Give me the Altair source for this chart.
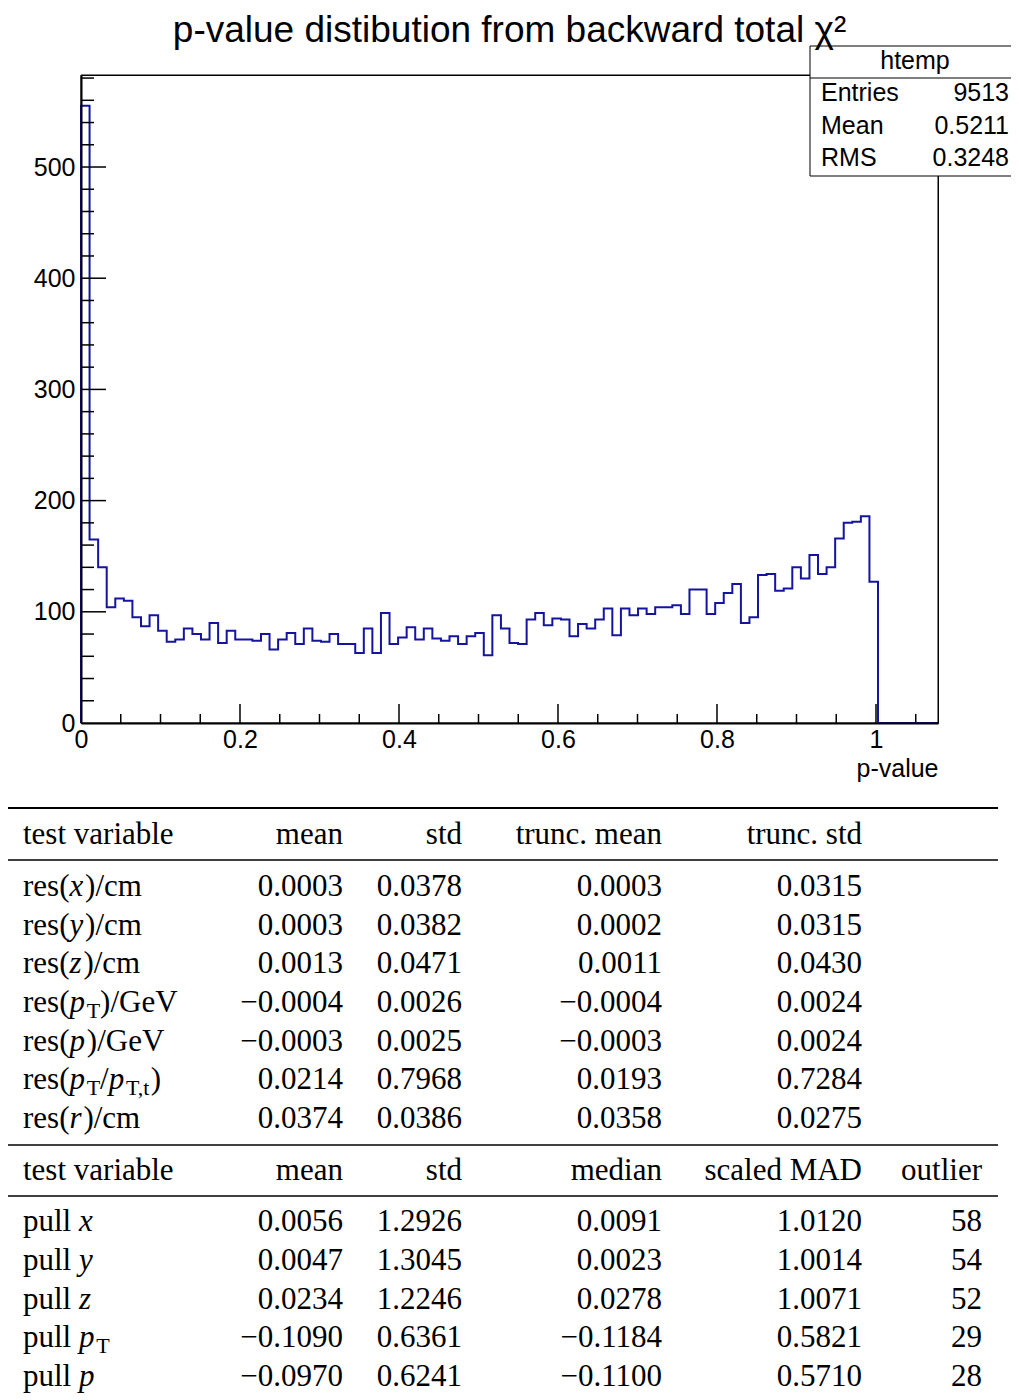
import altair as alt
import pandas as pd

# ---------------- histogram ----------------
TITLE = "p-value distibution from backward total \u03c7\u00b2"
X_LO, X_HI = 0.0, 1.078
Y_LO, Y_HI = 0.0, 582.75
counts = [555, 165, 140, 104, 112, 110, 95, 87, 97, 83,
          73, 75, 85, 80, 75, 90, 72, 83, 75, 75,
          74, 80, 66, 75, 81, 71, 85, 74, 73, 80,
          71, 71, 63, 85, 63, 99, 71, 77, 86, 75,
          85, 76, 74, 78, 71, 78, 81, 61, 97, 85,
          72, 71, 93, 99, 88, 94, 93, 78, 89, 85,
          93, 103, 79, 103, 97, 103, 98, 104, 104, 106,
          98, 120, 120, 98, 108, 117, 125, 90, 95, 133,
          134, 119, 121, 140, 130, 151, 134, 140, 166, 180,
          181, 186, 127, 0, 0, 0, 0, 0, 0, 0]
x_major = [0, 0.2, 0.4, 0.6, 0.8, 1.0]
x_minor = [0.05, 0.1, 0.15, 0.25, 0.3, 0.35, 0.45, 0.5, 0.55,
           0.65, 0.7, 0.75, 0.85, 0.9, 0.95, 1.05]
y_major = [0, 100, 200, 300, 400, 500]
y_minor = [20, 40, 60, 80, 120, 140, 160, 180, 220, 240, 260, 280,
           320, 340, 360, 380, 420, 440, 460, 480, 520, 540, 560, 580]
x_title = "p-value"

hist_name = "htemp"
stat_names = ["Entries", "Mean", "RMS"]
stat_values = ["9513", "0.5211", "0.3248"]

# ---------------- table ----------------
header_res = ["test variable", "mean", "std", "trunc. mean", "trunc. std"]
header_pull = ["test variable", "mean", "std", "median", "scaled MAD", "outlier"]

res_labels = [
    [("res(", "n"), ("x", "i"), (")/cm", "n")],
    [("res(", "n"), ("y", "i"), (")/cm", "n")],
    [("res(", "n"), ("z", "i"), (")/cm", "n")],
    [("res(", "n"), ("p", "i"), ("T", "s"), (")/GeV", "n")],
    [("res(", "n"), ("p", "i"), (")/GeV", "n")],
    [("res(", "n"), ("p", "i"), ("T", "s"), ("/", "n"), ("p", "i"), ("T,t", "s"), (")", "n")],
    [("res(", "n"), ("r", "i"), (")/cm", "n")],
]
res_mean = [0.0003, 0.0003, 0.0013, -0.0004, -0.0003, 0.0214, 0.0374]
res_std = [0.0378, 0.0382, 0.0471, 0.0026, 0.0025, 0.7968, 0.0386]
res_tmean = [0.0003, 0.0002, 0.0011, -0.0004, -0.0003, 0.0193, 0.0358]
res_tstd = [0.0315, 0.0315, 0.0430, 0.0024, 0.0024, 0.7284, 0.0275]

pull_labels = [
    [("pull ", "n"), ("x", "i")],
    [("pull ", "n"), ("y", "i")],
    [("pull ", "n"), ("z", "i")],
    [("pull ", "n"), ("p", "i"), ("T", "s")],
    [("pull ", "n"), ("p", "i")],
]
pull_mean = [0.0056, 0.0047, 0.0234, -0.1090, -0.0970]
pull_std = [1.2926, 1.3045, 1.2246, 0.6361, 0.6241]
pull_median = [0.0091, 0.0023, 0.0278, -0.1184, -0.1100]
pull_mad = [1.0120, 1.0014, 1.0071, 0.5821, 0.5710]
pull_outlier = [58, 54, 52, 29, 28]

# ---------------- styling / layout ----------------
W, H = 857, 648
BLUE = "#1414a0"
SANS = "Liberation Sans"
SERIF = "Liberation Serif"
TFS = 31  # table font size

xs = alt.Scale(domain=[X_LO, X_HI], zero=False, nice=False)
ys = alt.Scale(domain=[Y_LO, Y_HI], zero=False, nice=False)

nb = len(counts)
bw = (X_HI - X_LO) / nb
pts = [{"seq": 0, "x": X_LO, "n": 0}]
pts += [{"seq": i + 1, "x": X_LO + i * bw, "n": c} for i, c in enumerate(counts)]
pts += [{"seq": nb + 1, "x": X_HI, "n": 0}]
hist_df = pd.DataFrame(pts)

xaxis = alt.Axis(values=x_major, format="~g", title=x_title, titleAnchor="end",
                 titleAlign="right", titleX=W, titleY=53, titleBaseline="alphabetic",
                 titleFont=SANS, titleFontSize=25, titleFontWeight="normal", titleColor="black",
                 labelFont=SANS, labelFontSize=25, labelColor="black", labelPadding=4,
                 labelFlush=False, labelOverlap=False,
                 ticks=False, tickSize=0, grid=False, domainColor="black", domainWidth=2, zindex=1)
yaxis = alt.Axis(values=y_major, title=None,
                 labelFont=SANS, labelFontSize=25, labelColor="black", labelPadding=6,
                 labelFlush=False, labelOverlap=False,
                 ticks=False, tickSize=0, grid=False, domainColor="black", domainWidth=2, zindex=1)

line = alt.Chart(hist_df).mark_line(interpolate="step-after", color=BLUE, strokeWidth=2).encode(
    x=alt.X("x:Q", scale=xs, axis=xaxis),
    y=alt.Y("n:Q", scale=ys, axis=yaxis),
    order="seq:Q",
)

def xticks(vals, length):
    return alt.Chart(pd.DataFrame({"v": vals})).mark_rule(color="black", strokeWidth=1.5).encode(
        x=alt.X("v:Q", scale=xs, axis=None), y=alt.value(H), y2=alt.value(H - length))

def yticks(vals, length):
    return alt.Chart(pd.DataFrame({"v": vals})).mark_rule(color="black", strokeWidth=1.5).encode(
        y=alt.Y("v:Q", scale=ys, axis=None), x=alt.value(0), x2=alt.value(length))

one = pd.DataFrame({"a": [0]})
title_txt = alt.Chart(pd.DataFrame({"t": [TITLE]})).mark_text(
    font=SANS, fontSize=37, align="center", baseline="alphabetic", color="black").encode(
    text="t:N", x=alt.value(W / 2), y=alt.value(-33))
frame = alt.Chart(one).mark_rect(fill=None, stroke="black", strokeWidth=1).encode(
    x=alt.value(0), x2=alt.value(W), y=alt.value(0), y2=alt.value(H))
box = alt.Chart(one).mark_rect(fill="white", stroke="black", strokeWidth=1).encode(
    x=alt.value(729), x2=alt.value(960), y=alt.value(-29), y2=alt.value(101))
box_sep = alt.Chart(one).mark_rule(color="black", strokeWidth=1).encode(
    x=alt.value(729), x2=alt.value(960), y=alt.value(3))
box_title = alt.Chart(pd.DataFrame({"t": [hist_name]})).mark_text(
    font=SANS, fontSize=25, align="center", baseline="middle", color="black").encode(
    text="t:N", x=alt.value(834), y=alt.value(-14))
stat_df = pd.DataFrame({"i": list(range(len(stat_names))), "name": stat_names, "val": stat_values})
ys_stat = alt.Scale(domain=[0, len(stat_names) - 1], range=[18, 83], zero=False, nice=False)
stat_name_txt = alt.Chart(stat_df).mark_text(
    font=SANS, fontSize=25, align="left", baseline="middle", color="black").encode(
    text="name:N", x=alt.value(740), y=alt.Y("i:Q", scale=ys_stat, axis=None))
stat_val_txt = alt.Chart(stat_df).mark_text(
    font=SANS, fontSize=25, align="right", baseline="middle", color="black").encode(
    text="val:N", x=alt.value(928), y=alt.Y("i:Q", scale=ys_stat, axis=None))

# ---- table layout: slots mapped to pixel rows through a piecewise scale ----
# slots: 0 top rule, 1 header, 2 rule, 3-9 res rows, 10 rule, 11 header, 12 rule, 13-17 pull rows
slot_px = [733, 769, 785] + [821 + 38.67 * k for k in range(7)] + [1070, 1105, 1121] + \
          [1156 + 38.75 * k for k in range(5)]
ys_tab = alt.Scale(domain=list(range(len(slot_px))), range=slot_px, zero=False, nice=False)
col_px = [-58, 262, 381, 581, 781, 901]
xs_col = alt.Scale(domain=list(range(len(col_px))), range=col_px, zero=False, nice=False)
xs_em = alt.Scale(domain=[0, 1], range=[col_px[0], col_px[0] + TFS], zero=False, nice=False)

rules_thick = alt.Chart(pd.DataFrame({"slot": [0]})).mark_rule(color="black", strokeWidth=2.2).encode(
    y=alt.Y("slot:Q", scale=ys_tab, axis=None), x=alt.value(-73), x2=alt.value(917))
rules_thin = alt.Chart(pd.DataFrame({"slot": [2, 10, 12]})).mark_rule(color="black", strokeWidth=1.4).encode(
    y=alt.Y("slot:Q", scale=ys_tab, axis=None), x=alt.value(-73), x2=alt.value(917))

def fmt(v):
    return f"{v:.4f}".replace("-", "\u2212")

cells = []
for j, h in enumerate(header_res):
    cells.append({"slot": 1, "col": j, "text": h})
for j, h in enumerate(header_pull):
    cells.append({"slot": 11, "col": j, "text": h})
for r in range(len(res_mean)):
    for j, arr in enumerate([res_mean, res_std, res_tmean, res_tstd]):
        cells.append({"slot": 3 + r, "col": j + 1, "text": fmt(arr[r])})
for r in range(len(pull_mean)):
    for j, arr in enumerate([pull_mean, pull_std, pull_median, pull_mad]):
        cells.append({"slot": 13 + r, "col": j + 1, "text": fmt(arr[r])})
    cells.append({"slot": 13 + r, "col": 5, "text": str(pull_outlier[r])})
cells_df = pd.DataFrame(cells)

left_cells = alt.Chart(cells_df).transform_filter("datum.col == 0").mark_text(
    font=SERIF, fontSize=TFS, align="left", baseline="alphabetic", color="black").encode(
    text="text:N", x=alt.X("col:Q", scale=xs_col, axis=None), y=alt.Y("slot:Q", scale=ys_tab, axis=None))
right_cells = alt.Chart(cells_df).transform_filter("datum.col > 0").mark_text(
    font=SERIF, fontSize=TFS, align="right", baseline="alphabetic", color="black").encode(
    text="text:N", x=alt.X("col:Q", scale=xs_col, axis=None), y=alt.Y("slot:Q", scale=ys_tab, axis=None))

# text-run layout of the row labels (Times metrics, in em)
W_N = {'r': .333, 'e': .444, 's': .389, '(': .333, ')': .333, '/': .278, 'c': .444, 'm': .778,
       'G': .722, 'V': .722, 'v': .5, 'T': .611, 'p': .5, 'u': .5, 'l': .278, 't': .278,
       ',': .25, ' ': .25}
W_I = {'x': .444, 'y': .444, 'z': .389, 'p': .5, 'r': .389}
SUB = 0.7

segs = []
for labels, first in [(res_labels, 3), (pull_labels, 13)]:
    for k, lab in enumerate(labels):
        pos = 0.0
        for text, kind in lab:
            segs.append({"slot": first + k, "em": pos, "text": text, "kind": kind})
            if kind == "n":
                pos += sum(W_N[c] for c in text)
            elif kind == "i":
                pos += sum(W_I[c] for c in text) + 0.06
            else:
                pos += SUB * sum(W_N[c] for c in text)
seg_df = pd.DataFrame(segs)

def seg_layer(kind, **kw):
    return alt.Chart(seg_df).transform_filter(f"datum.kind == '{kind}'").mark_text(
        font=SERIF, align="left", baseline="alphabetic", color="black", **kw).encode(
        text="text:N", x=alt.X("em:Q", scale=xs_em, axis=None),
        y=alt.Y("slot:Q", scale=ys_tab, axis=None))

seg_n = seg_layer("n", fontSize=TFS)
seg_i = seg_layer("i", fontSize=TFS, fontStyle="italic")
seg_s = seg_layer("s", fontSize=round(TFS * SUB), dy=6)

chart = alt.layer(
    frame, line,
    xticks(x_major[1:], 19), xticks(x_minor, 9),
    yticks(y_major[1:], 25), yticks(y_minor, 13),
    box, box_sep, box_title, stat_name_txt, stat_val_txt,
    title_txt,
    rules_thick, rules_thin, left_cells, right_cells, seg_n, seg_i, seg_s,
).resolve_scale(x="independent", y="independent").properties(
    width=W, height=H,
    padding={"left": 73, "top": 67, "right": 73, "bottom": 672},
    autosize=alt.AutoSizeParams(type="none"),
).configure(background="white").configure_view(stroke="black", strokeWidth=1)

chart.save("out.html", embed_options={"renderer": "svg", "actions": False})
